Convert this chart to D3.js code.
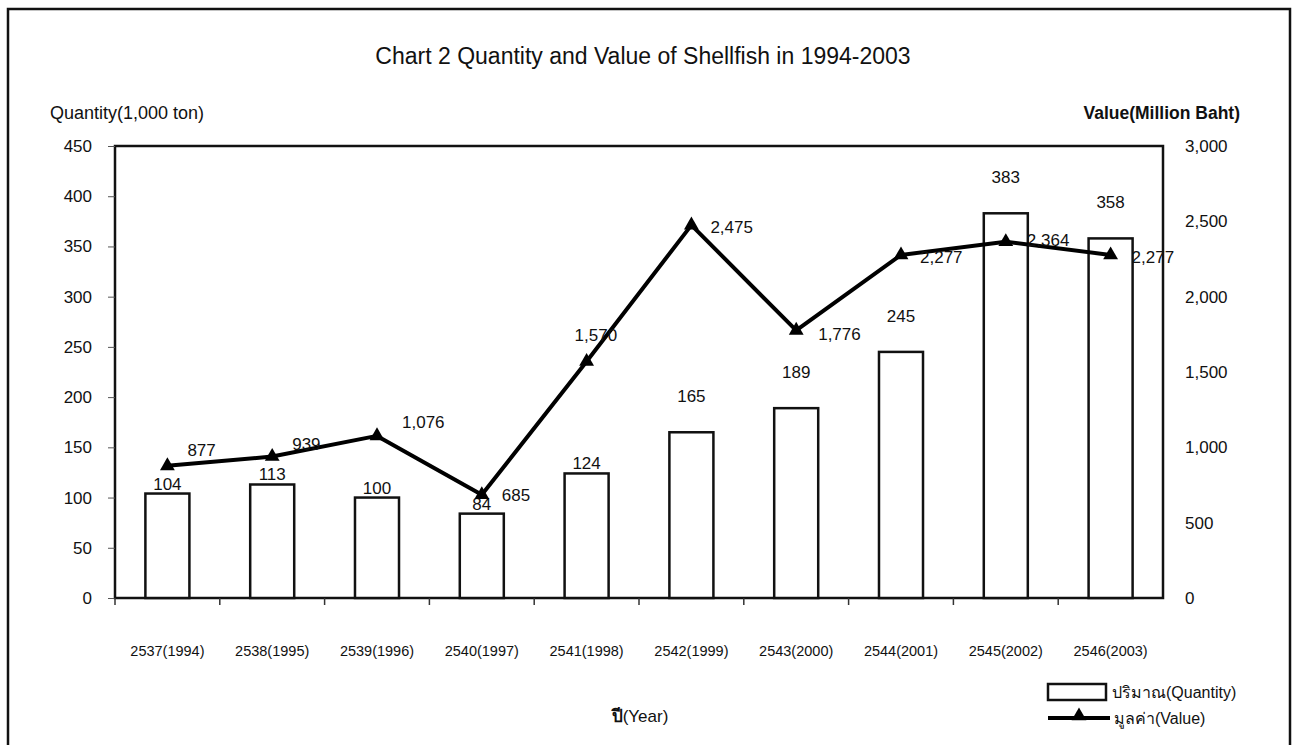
<!DOCTYPE html>
<html>
<head>
<meta charset="utf-8">
<script src="https://cdn.jsdelivr.net/npm/d3@7"></script>
<style>
  body { margin: 0; background: #fff; }
  text { font-family: "Liberation Sans", Arial, sans-serif; fill: #111; }
</style>
</head>
<body>
<div id="chart"></div>
<script>
// data
var years = ["2537(1994)", "2538(1995)", "2539(1996)", "2540(1997)", "2541(1998)",
             "2542(1999)", "2543(2000)", "2544(2001)", "2545(2002)", "2546(2003)"];
var quantity = [104, 113, 100, 84, 124, 165, 189, 245, 383, 358];
var value = [877, 939, 1076, 685, 1570, 2475, 1776, 2277, 2364, 2277];
var leftTicks = [0, 50, 100, 150, 200, 250, 300, 350, 400, 450];
var rightTicks = [0, 500, 1000, 1500, 2000, 2500, 3000];

var svgWidth = 1293;
var svgHeight = 745;

var margin = {top: 146, right: 130, bottom: 147, left: 115};
var width = svgWidth - margin.left - margin.right;
var height = svgHeight - margin.top - margin.bottom;

var svg = d3.select("#chart")
  .append("svg")
  .attr("width", svgWidth)
  .attr("height", svgHeight);

// outer frame
svg.append("rect")
  .attr("x", 8).attr("y", 9)
  .attr("width", 1282).attr("height", 760)
  .attr("fill", "none")
  .attr("stroke", "#111")
  .attr("stroke-width", 2.5);

svg.append("text")
  .attr("x", 643).attr("y", 64)
  .attr("text-anchor", "middle")
  .style("font-size", "23px")
  .text("Chart 2 Quantity and Value of Shellfish in 1994-2003");

svg.append("text")
  .attr("x", 50).attr("y", 119)
  .style("font-size", "18px")
  .text("Quantity(1,000 ton)");

svg.append("text")
  .attr("x", 1240).attr("y", 119)
  .attr("text-anchor", "end")
  .style("font-size", "17.5px")
  .style("font-weight", "bold")
  .text("Value(Million Baht)");

var chartGroup = svg.append("g")
  .attr("transform", `translate(${margin.left}, ${margin.top})`);

// scales
var xScale = d3.scaleBand().domain(years).range([0, width]);
var yLeft = d3.scaleLinear().domain([0, 450]).range([height, 0]);
var yRight = d3.scaleLinear().domain([0, 3000]).range([height, 0]);

// plot frame
chartGroup.append("rect")
  .attr("width", width).attr("height", height)
  .attr("fill", "none")
  .attr("stroke", "#111")
  .attr("stroke-width", 2.5);

// left axis
var leftAxis = d3.axisLeft(yLeft).tickValues(leftTicks).tickSize(7).tickPadding(16);
chartGroup.append("g")
  .call(leftAxis)
  .call(g => g.select(".domain").remove())
  .call(g => g.selectAll("line").attr("stroke", "#555"))
  .selectAll("text")
  .style("font-size", "17px")
  .style("font-family", "Liberation Sans, Arial, sans-serif")
  .attr("fill", "#111");

// right axis
var rightAxis = d3.axisRight(yRight).tickValues(rightTicks).tickSize(0).tickPadding(22)
  .tickFormat(d3.format(","));
chartGroup.append("g")
  .attr("transform", `translate(${width}, 0)`)
  .call(rightAxis)
  .call(g => g.select(".domain").remove())
  .selectAll("text")
  .style("font-size", "17px")
  .style("font-family", "Liberation Sans, Arial, sans-serif")
  .attr("fill", "#111");

// bottom axis: labels under each category, ticks at category edges
chartGroup.append("g")
  .selectAll("line")
  .data(years)
  .enter()
  .append("line")
  .attr("x1", d => xScale(d)).attr("x2", d => xScale(d))
  .attr("y1", height).attr("y2", height + 7)
  .attr("stroke", "#333")
  .attr("stroke-width", 1.5);

chartGroup.append("g")
  .selectAll("text")
  .data(years)
  .enter()
  .append("text")
  .attr("x", d => xScale(d) + xScale.bandwidth() / 2)
  .attr("y", height + 58)
  .attr("text-anchor", "middle")
  .style("font-size", "14.5px")
  .text(d => d);

// bars
var barW = xScale.bandwidth() * 0.42;
chartGroup.append("g")
  .selectAll("rect")
  .data(quantity)
  .enter()
  .append("rect")
  .attr("x", (d, i) => xScale(years[i]) + (xScale.bandwidth() - barW) / 2)
  .attr("y", d => yLeft(d))
  .attr("width", barW)
  .attr("height", d => height - yLeft(d))
  .attr("fill", "#fff")
  .attr("stroke", "#111")
  .attr("stroke-width", 2.5);

// bar labels (the later ones sit higher, as in the original)
chartGroup.append("g")
  .selectAll("text")
  .data(quantity)
  .enter()
  .append("text")
  .attr("x", (d, i) => xScale(years[i]) + xScale.bandwidth() / 2)
  .attr("y", (d, i) => yLeft(d) - (i < 5 ? 4 : 30))
  .attr("text-anchor", "middle")
  .style("font-size", "17px")
  .text(d => d);

// value line
var cx = (d, i) => xScale(years[i]) + xScale.bandwidth() / 2;
var valueLine = d3.line()
  .x(cx)
  .y(d => yRight(d));

chartGroup.append("path")
  .datum(value)
  .attr("d", valueLine)
  .attr("fill", "none")
  .attr("stroke", "#000")
  .attr("stroke-width", 4)
  .attr("stroke-linejoin", "round");

chartGroup.append("g")
  .selectAll("path")
  .data(value)
  .enter()
  .append("path")
  .attr("d", d3.symbol(d3.symbolTriangle, 95))
  .attr("transform", (d, i) => `translate(${cx(d, i)}, ${yRight(d)})`)
  .attr("fill", "#000");

// value labels: mostly to the right of the marker
var labelShift = [[20, -16], [20, -13], [25, -14], [20, 0], [-12, -26],
                  [19, 2], [22, 4], [19, 2], [21, -2], [21, 2]];
chartGroup.append("g")
  .selectAll("text")
  .data(value)
  .enter()
  .append("text")
  .attr("x", (d, i) => cx(d, i) + labelShift[i][0])
  .attr("y", (d, i) => yRight(d) + labelShift[i][1] + 6)
  .style("font-size", "17px")
  .text(d => d3.format(",")(d));

// x axis title
var xTitle = svg.append("text")
  .attr("x", 640).attr("y", 722)
  .attr("text-anchor", "middle")
  .style("font-size", "17px");
xTitle.append("tspan").style("font-weight", "bold").text("ปี");
xTitle.append("tspan").text("(Year)");

// legend
var legend = svg.append("g").attr("transform", "translate(1048, 0)");
legend.append("rect")
  .attr("x", 0).attr("y", 684)
  .attr("width", 58).attr("height", 16)
  .attr("fill", "#fff")
  .attr("stroke", "#111")
  .attr("stroke-width", 2.5);
legend.append("text")
  .attr("x", 64).attr("y", 698)
  .style("font-size", "16px")
  .text("ปริมาณ(Quantity)");
legend.append("line")
  .attr("x1", 0).attr("x2", 62)
  .attr("y1", 718).attr("y2", 718)
  .attr("stroke", "#000")
  .attr("stroke-width", 4);
legend.append("path")
  .attr("d", d3.symbol(d3.symbolTriangle, 95))
  .attr("transform", "translate(31, 716)")
  .attr("fill", "#000");
legend.append("text")
  .attr("x", 66).attr("y", 724)
  .style("font-size", "16px")
  .text("มูลค่า(Value)");
</script>
</body>
</html>
